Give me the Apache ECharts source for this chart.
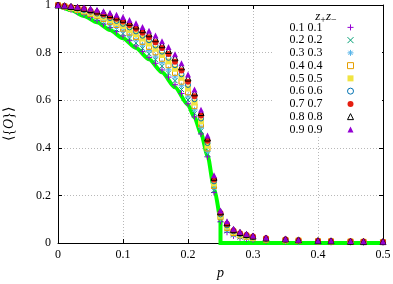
<!DOCTYPE html>
<html><head><meta charset="utf-8">
<script src="https://cdn.jsdelivr.net/npm/echarts@6/dist/echarts.min.js"></script>
<style>html,body{margin:0;padding:0;background:#fff}#c{width:393px;height:284px}</style>
</head><body><div id="c"></div>
<script>
var pValues = [0,0.01,0.02,0.03,0.04,0.05,0.06,0.07,0.08,0.09,0.10,0.11,0.12,0.13,0.14,0.15,0.16,0.17,0.18,0.19,0.20,0.21,0.22,0.23,0.24,0.25,0.26,0.27,0.28,0.29,0.30,0.32,0.35,0.37,0.40,0.42,0.45,0.47,0.50];

var s01 = [1.000,0.990,0.980,0.970,0.960,0.948,0.935,0.920,0.905,0.888,0.870,0.850,0.828,0.805,0.780,0.755,0.727,0.697,0.665,0.628,0.585,0.530,0.458,0.362,0.212,0.090,0.045,0.030,0.022,0.017,0.013,0.009,0.006,0.005,0.004,0.003,0.003,0.002,0.002];
var s02 = [1.000,0.991,0.982,0.973,0.964,0.953,0.941,0.927,0.913,0.897,0.880,0.861,0.840,0.818,0.795,0.770,0.743,0.714,0.682,0.645,0.601,0.545,0.471,0.374,0.221,0.096,0.051,0.034,0.025,0.020,0.015,0.011,0.008,0.006,0.005,0.004,0.004,0.003,0.003];
var s03 = [1.000,0.992,0.984,0.976,0.968,0.958,0.947,0.934,0.921,0.906,0.891,0.873,0.853,0.832,0.809,0.785,0.758,0.730,0.698,0.661,0.617,0.560,0.485,0.385,0.231,0.102,0.057,0.038,0.029,0.023,0.018,0.013,0.009,0.007,0.006,0.005,0.004,0.003,0.003];
var s04 = [1.000,0.993,0.986,0.979,0.972,0.962,0.953,0.941,0.929,0.916,0.901,0.884,0.865,0.845,0.824,0.801,0.774,0.747,0.715,0.678,0.633,0.575,0.498,0.397,0.240,0.108,0.063,0.042,0.032,0.026,0.020,0.014,0.011,0.009,0.007,0.006,0.005,0.004,0.004];
var s05 = [1.000,0.994,0.988,0.982,0.976,0.967,0.958,0.948,0.937,0.925,0.912,0.895,0.877,0.859,0.838,0.816,0.790,0.763,0.732,0.694,0.649,0.590,0.511,0.409,0.250,0.114,0.069,0.046,0.035,0.028,0.022,0.016,0.012,0.010,0.008,0.007,0.006,0.005,0.004];
var s06 = [1.000,0.995,0.990,0.985,0.979,0.972,0.964,0.955,0.945,0.933,0.921,0.906,0.889,0.871,0.852,0.830,0.804,0.778,0.747,0.709,0.664,0.604,0.523,0.420,0.259,0.120,0.074,0.049,0.038,0.031,0.025,0.018,0.014,0.011,0.008,0.007,0.006,0.005,0.005];
var s07 = [1.000,0.996,0.992,0.987,0.983,0.976,0.969,0.961,0.952,0.942,0.931,0.916,0.900,0.883,0.865,0.844,0.819,0.794,0.762,0.725,0.678,0.617,0.536,0.430,0.267,0.126,0.080,0.053,0.041,0.034,0.027,0.020,0.015,0.012,0.009,0.008,0.007,0.006,0.005];
var s08 = [1.000,0.997,0.994,0.990,0.986,0.981,0.975,0.968,0.960,0.950,0.940,0.927,0.912,0.896,0.879,0.858,0.833,0.809,0.778,0.740,0.693,0.631,0.548,0.441,0.276,0.131,0.085,0.056,0.044,0.036,0.029,0.021,0.017,0.013,0.010,0.009,0.007,0.006,0.006];
var s09 = [1.000,0.998,0.996,0.993,0.990,0.985,0.980,0.974,0.967,0.959,0.950,0.937,0.923,0.908,0.892,0.872,0.848,0.824,0.793,0.755,0.708,0.645,0.560,0.452,0.285,0.137,0.091,0.060,0.047,0.039,0.031,0.023,0.018,0.014,0.011,0.010,0.008,0.007,0.006];

var seriesNames = ['0.1 0.1','0.2 0.2','0.3 0.3','0.4 0.4','0.5 0.5','0.6 0.6','0.7 0.7','0.8 0.8','0.9 0.9'];

// theory curve and its drop at p = 0.25
var theoryP = [0,0.02,0.04,0.06,0.08,0.10,0.12,0.14,0.16,0.18,0.20,0.21,0.22,0.23,0.24,0.2475];
var theoryO = [1.0,0.979,0.954,0.927,0.895,0.86,0.819,0.772,0.717,0.654,0.58,0.527,0.461,0.368,0.232,0.128];
var dropP = [0.2475,0.25,0.25,0.5];
var dropO = [0.128,0.095,0,0];

var xTicks = [0,0.1,0.2,0.3,0.4,0.5];
var yTicks = [0,0.2,0.4,0.6,0.8,1];

var SERIF = "Liberation Serif, Times New Roman, serif";
var allSeries = [s01,s02,s03,s04,s05,s06,s07,s08,s09];
var styles = [
  {symbol:'path://M0,5L10,5M5,0L5,10', color:'#9400d3', open:true, size:6},
  {symbol:'path://M0,0L10,10M0,10L10,0', color:'#009e73', open:true, size:5},
  {symbol:'path://M0,5L10,5M5,0L5,10M1.5,1.5L8.5,8.5M1.5,8.5L8.5,1.5', color:'#56b4e9', open:true, size:6},
  {symbol:'rect', color:'#e69f00', open:true, size:5},
  {symbol:'rect', color:'#f0e442', open:false, size:6},
  {symbol:'circle', color:'#0072b2', open:true, size:5},
  {symbol:'circle', color:'#e51e10', open:false, size:6},
  {symbol:'triangle', color:'#000000', open:true, size:6},
  {symbol:'triangle', color:'#9400d3', open:false, size:6}
];

var series = [{
  type:'line', name:'theory', silent:true, z:1, smooth:0.25, smoothMonotone:'x',
  data: theoryP.map(function(p,i){return [p, theoryO[i]];}),
  symbol:'none', lineStyle:{color:'#00ff00', width:4}, itemStyle:{color:'#00ff00'}
},{
  type:'line', name:'drop', silent:true, z:1,
  data: dropP.map(function(p,i){return [p, dropO[i]];}),
  symbol:'none', lineStyle:{color:'#00ff00', width:4, join:'miter'}, itemStyle:{color:'#00ff00'}
}];
allSeries.forEach(function(arr, k){
  var st = styles[k];
  series.push({
    type:'scatter', name: seriesNames[k], z: 2+k,
    data: pValues.map(function(p,i){return [p, arr[i]];}),
    symbol: st.symbol, symbolSize: st.size,
    itemStyle: st.open ? {color:'rgba(0,0,0,0)', borderColor: st.color, borderWidth:1, opacity:1}
                       : {color: st.color, borderColor: st.color, borderWidth:0, opacity:1}
  });
});

var chart = echarts.init(document.getElementById('c'), null, {renderer:'canvas'});
var axisLine = {show:true, onZero:false, lineStyle:{color:'#000', width:1}};
chart.setOption({
  animation:false,
  backgroundColor:'#fff',
  grid:{left:58, right:10, top:5, bottom:41, containLabel:false, outerBoundsMode:'none'},
  xAxis:[{
    type:'value', min:xTicks[0], max:xTicks[xTicks.length-1], interval:0.1, position:'bottom',
    axisLine:axisLine, axisTick:{show:true, inside:true, length:4, lineStyle:{color:'#000'}},
    axisLabel:{color:'#000', fontFamily:SERIF, fontSize:12, margin:6},
    splitLine:{show:true, lineStyle:{color:'#b8b8b8', type:[1,2], width:1}},
    name:'p', nameLocation:'middle', nameGap:17,
    nameTextStyle:{color:'#000', fontFamily:SERIF, fontSize:14, fontStyle:'italic'}
  },{
    type:'value', min:xTicks[0], max:xTicks[xTicks.length-1], interval:0.1, position:'top',
    axisLine:axisLine, axisTick:{show:true, inside:true, length:4, lineStyle:{color:'#000'}},
    axisLabel:{show:false}, splitLine:{show:false}
  }],
  yAxis:[{
    type:'value', min:yTicks[0], max:yTicks[yTicks.length-1], interval:0.2, position:'left',
    axisLine:axisLine, axisTick:{show:true, inside:true, length:4, lineStyle:{color:'#000'}},
    axisLabel:{color:'#000', fontFamily:SERIF, fontSize:12, margin:7},
    splitLine:{show:true, lineStyle:{color:'#b8b8b8', type:[1,2], width:1}},
    name:'⟨{{o|O}}⟩', nameLocation:'middle', nameRotate:90, nameGap:42,
    nameTextStyle:{color:'#000', fontFamily:SERIF, fontSize:14,
      rich:{o:{fontFamily:SERIF, fontSize:14, fontStyle:'italic', color:'#000'}}}
  },{
    type:'value', min:yTicks[0], max:yTicks[yTicks.length-1], interval:0.2, position:'right',
    axisLine:axisLine, axisTick:{show:true, inside:true, length:4, lineStyle:{color:'#000'}},
    axisLabel:{show:false}, splitLine:{show:false}
  }],
  graphic:[
    {type:'rect', z:5, shape:{x:273, y:6, width:109, height:130}, style:{fill:'#fff'}, silent:true},
    {type:'text', z:6, x:326, y:17, style:{
      text:'{z|z}{s|+}{z|z}{s|−}', align:'center', verticalAlign:'middle',
      rich:{
        z:{fontFamily:SERIF, fontSize:13, fontStyle:'italic', lineHeight:16, verticalAlign:'middle', fill:'#000'},
        s:{fontFamily:SERIF, fontSize:10, lineHeight:9, verticalAlign:'bottom', fill:'#000'}
      }}}
  ],
  legend:{
    z:7, show:true, orient:'vertical', right:39, top:21, padding:0, itemGap:0,
    align:'right', itemWidth:6, itemHeight:6,
    data: seriesNames.map(function(n,k){ return {name:n, itemStyle:{borderWidth: styles[k].open ? 1 : 0}}; }),
    textStyle:{color:'#000', fontFamily:SERIF, fontSize:12, lineHeight:12.75, padding:[0,20,0,0]}
  },
  series: series
});
</script></body></html>
